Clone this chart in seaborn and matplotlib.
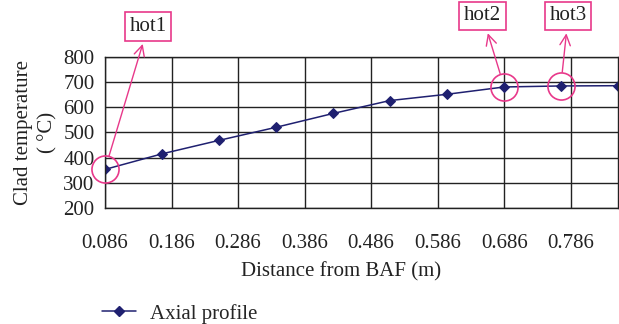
import matplotlib
matplotlib.use("Agg")
import matplotlib.pyplot as plt
import seaborn as sns
import pandas as pd

# Axial clad temperature profile
distance_m = [0.086, 0.172, 0.257, 0.343, 0.429, 0.514, 0.600, 0.686, 0.771, 0.857]
clad_temp_c = [353, 415, 468, 520, 575, 626, 651, 680, 684, 685]
x_ticks = [0.086, 0.186, 0.286, 0.386, 0.486, 0.586, 0.686, 0.786]
y_ticks = [200, 300, 400, 500, 600, 700, 800]

# Hot spots: label, index into the profile, label position (figure fraction)
hot_labels = ["hot1", "hot2", "hot3"]
hot_index = [0, 7, 8]
hot_label_pos = [(0.239, 0.918), (0.7795, 0.951), (0.918, 0.951)]

sns.set_theme(style="white")
plt.rcParams["font.family"] = ["Liberation Serif", "DejaVu Serif"]

line_color = "#1F2070"
pink = "#E8388A"
ink = "#222222"
fs = 15

df = pd.DataFrame({"distance": distance_m, "temp": clad_temp_c,
                   "series": "Axial profile"})

fig = plt.figure(figsize=(6.19, 3.24), dpi=100)
ax = fig.add_axes([0.1696, 0.358, 0.8288, 0.467])

sns.lineplot(data=df, x="distance", y="temp", hue="series",
             palette=[line_color], marker="D", markersize=5.5,
             markeredgecolor=line_color, linewidth=1.1, ax=ax, legend=False)

ax.set_xlim(distance_m[0], distance_m[-1])
ax.set_ylim(200, 800)
ax.set_xticks(x_ticks)
ax.set_xticklabels([f"{v:.3f}" for v in x_ticks])
ax.set_yticks(y_ticks)
ax.grid(True, color=ink, linewidth=1.0)
for s in ax.spines.values():
    s.set_color(ink)
    s.set_linewidth(1.0)
ax.tick_params(axis="both", direction="out", width=1.0,
               color=ink, labelsize=fs, labelcolor=ink)
ax.tick_params(axis="x", length=7, pad=12)
ax.tick_params(axis="y", length=4.5, pad=3)
ax.set_xlabel("Distance from BAF (m)", fontsize=fs, color=ink)
ax.xaxis.set_label_coords(0.46, -0.36)
ax.set_ylabel("Clad temperature\n( °C)", fontsize=fs, color=ink,
              labelpad=4, linespacing=1.4)

# Circles around the hot spots
hx = [distance_m[i] for i in hot_index]
hy = [clad_temp_c[i] for i in hot_index]
ax.plot(hx, hy, linestyle="none", marker="o", markersize=19.5,
        markerfacecolor="none", markeredgecolor=pink, markeredgewidth=1.2,
        clip_on=False, zorder=5)

for lab, i, pos in zip(hot_labels, hot_index, hot_label_pos):
    ax.annotate(lab, xy=(distance_m[i], clad_temp_c[i]), xycoords="data",
                xytext=pos, textcoords="figure fraction",
                ha="center", va="center", fontsize=fs, color=ink,
                bbox=dict(boxstyle="square,pad=0.22", fc="white", ec=pink, lw=1.2),
                arrowprops=dict(arrowstyle="<-,head_length=0.5,head_width=0.25",
                                color=pink, lw=1.0, shrinkA=2, shrinkB=10),
                annotation_clip=False, zorder=6)

# Legend below the x-axis
handle = plt.Line2D([], [], color=line_color, marker="D", markersize=5,
                    linewidth=1.1)
fig.legend([handle], ["Axial profile"], loc="lower left",
           bbox_to_anchor=(0.135, -0.057), frameon=False, fontsize=fs,
           handlelength=1.6, handletextpad=0.7)

fig.savefig("out.png", dpi=100)
